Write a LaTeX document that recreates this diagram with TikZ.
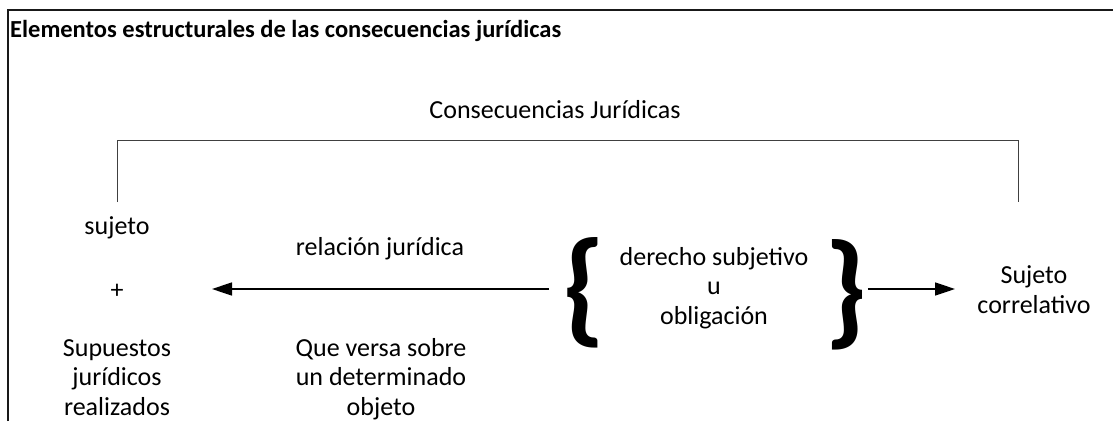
\documentclass[tikz,border=0pt]{standalone}
\usepackage{fontspec}
\setmainfont{Carlito}
\usetikzlibrary{arrows.meta}
\def\txtsize{\fontsize{26}{29.5}\selectfont}
\tikzset{
  txt/.style={font=\txtsize, inner sep=0pt, align=center, anchor=base},
  llave/.style={font=\fontsize{126}{126}\selectfont\bfseries, inner sep=0pt},
  flecha/.style={line width=1.6pt, -{Triangle[length=20pt,width=13pt]}},
  marco/.style={line width=1.5pt, black!90},
  corchete/.style={line width=1pt, black!75}
}

\begin{document}
\begin{tikzpicture}[x=1pt,y=-1pt]
	%%%%% START %%%%%
	\useasboundingbox (0,0) rectangle (1113,421);
	
	\draw[marco] (8,421) -- (8,10) -- (1113,10);
	\node[anchor=base west, inner sep=0pt, font=\fontsize{24.5}{28}\selectfont\bfseries] (titulo) at (10,37) {Elementos estructurales de las consecuencias jurídicas};
	
	\node[txt] (consec) at (555,118) {Consecuencias Jurídicas};
	\draw[corchete] (117,202) -- (117,140) -- (1018,140) -- (1018,202);
	
	% base = ultima linea
	\node[txt] (sujeto) at (117,234) {sujeto};
	\node[txt] (mas) at (117,298) {+};
	\node[txt] (supuestos) at (117,415) {Supuestos\\jurídicos\\realizados};
	
	\node[txt] (relacion) at (380,255) {relación jurídica};
	\node[txt] (versa) at (381,415) {Que versa sobre\\un determinado\\objeto};
	
	\node[llave] (llaveI) at (584,293) {\{};
	\node[txt] (derecho) at (714,324) {derecho subjetivo\\u\\obligación};
	\node[llave] (llaveD) at (846,295) {\}};
	
	\node[txt] (correl) at (1034,313) {Sujeto\\correlativo};
	
	\coordinate (puntaI) at (212,289);
	\coordinate (puntaD) at (955,289);
	\draw[flecha] (llaveI.west |- puntaI) ++(-13,0) -- (puntaI);
	\draw[flecha] (llaveD.east |- puntaD) -- (puntaD);
	%%%%% END %%%%%
\end{tikzpicture}
\end{document}
